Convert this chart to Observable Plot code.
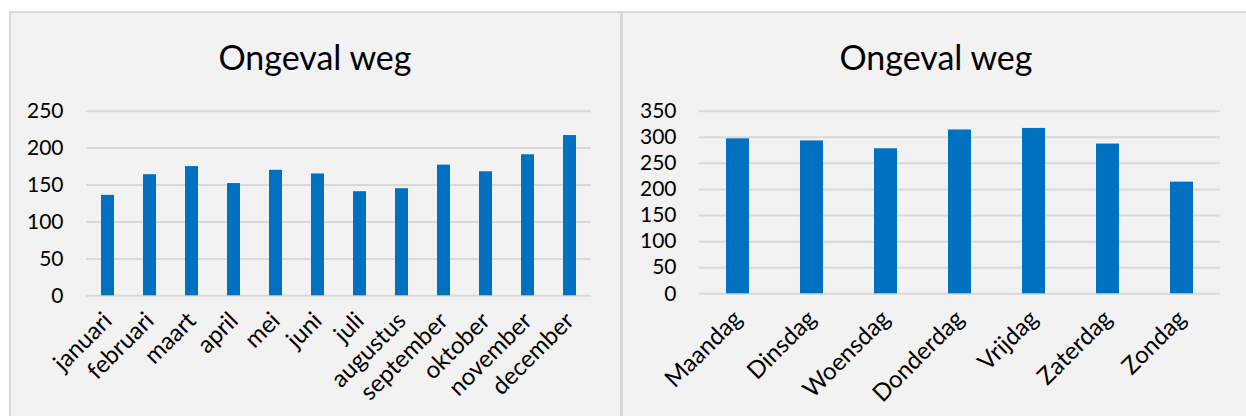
<!DOCTYPE html>
<html>
<head>
<meta charset="utf-8">
<script src="https://cdn.jsdelivr.net/npm/d3@7"></script>
<script src="https://cdn.jsdelivr.net/npm/@observablehq/plot@0.6"></script>
<style>
  html, body { margin: 0; padding: 0; background: #ffffff; width: 1246px; height: 416px; overflow: hidden; }
  .panel { position: absolute; background: #f2f2f2; border: 2px solid #d9d9d9; box-sizing: border-box; }
  .title { position: absolute; font-family: Lato, sans-serif; font-size: 34px; color: #000; text-align: center; line-height: 1; }
  .chart { position: absolute; top: 0; }
</style>
</head>
<body>
<div class="panel" style="left:9px; top:11px; width:613px; height:420px;"></div>
<div class="panel" style="left:621px; top:11px; width:630px; height:420px;"></div>
<div class="title" id="t1" style="left:9px; width:612px; top:40px;"></div>
<div class="title" id="t2" style="left:622px; width:628px; top:40px;"></div>
<div class="chart" id="c1" style="left:0px;"></div>
<div class="chart" id="c2" style="left:622px;"></div>
<script>
const titleText = "Ongeval weg";

const months = ["januari", "februari", "maart", "april", "mei", "juni", "juli", "augustus", "september", "oktober", "november", "december"];
const monthValues = [136, 164, 175, 152, 170, 165, 141, 145, 177, 168, 191, 217];
const monthTicks = [0, 50, 100, 150, 200, 250];

const days = ["Maandag", "Dinsdag", "Woensdag", "Donderdag", "Vrijdag", "Zaterdag", "Zondag"];
const dayValues = [297, 293, 278, 314, 317, 287, 214];
const dayTicks = [0, 50, 100, 150, 200, 250, 300, 350];

document.getElementById("t1").textContent = titleText;
document.getElementById("t2").textContent = titleText;

function makeChart(cats, vals, ticks, opts) {
  const data = cats.map((c, i) => ({cat: c, value: vals[i]}));
  return Plot.plot({
    width: opts.width,
    height: 416,
    marginTop: 110.7,
    marginBottom: opts.marginBottom,
    marginLeft: opts.marginLeft,
    marginRight: opts.marginRight,
    style: {background: "transparent", fontFamily: "Lato, sans-serif", fontSize: "21px", color: "#000", overflow: "visible"},
    x: {domain: cats, paddingInner: opts.padding, paddingOuter: opts.padding / 2, label: null},
    y: {domain: [0, d3.max(ticks)], label: null},
    marks: [
      Plot.ruleY(ticks, {stroke: "#d9d9d9", strokeWidth: 2}),
      Plot.barY(data, {x: "cat", y: "value", fill: "#0070c0"}),
      Plot.axisY({ticks: ticks, tickSize: 0, tickPadding: 23, label: null, fill: "#000", fontSize: 21}),
      Plot.axisX({tickRotate: -45, tickSize: 0, tickPadding: 21, label: null, fill: "#000", fontSize: 24})
    ]
  });
}

document.getElementById("c1").appendChild(makeChart(months, monthValues, monthTicks, {
  width: 621, marginLeft: 86, marginRight: 30, marginBottom: 120.7, padding: 0.68
}));
document.getElementById("c2").appendChild(makeChart(days, dayValues, dayTicks, {
  width: 624, marginLeft: 77, marginRight: 26.4, marginBottom: 122.7, padding: 0.69
}));
</script>
</body>
</html>
